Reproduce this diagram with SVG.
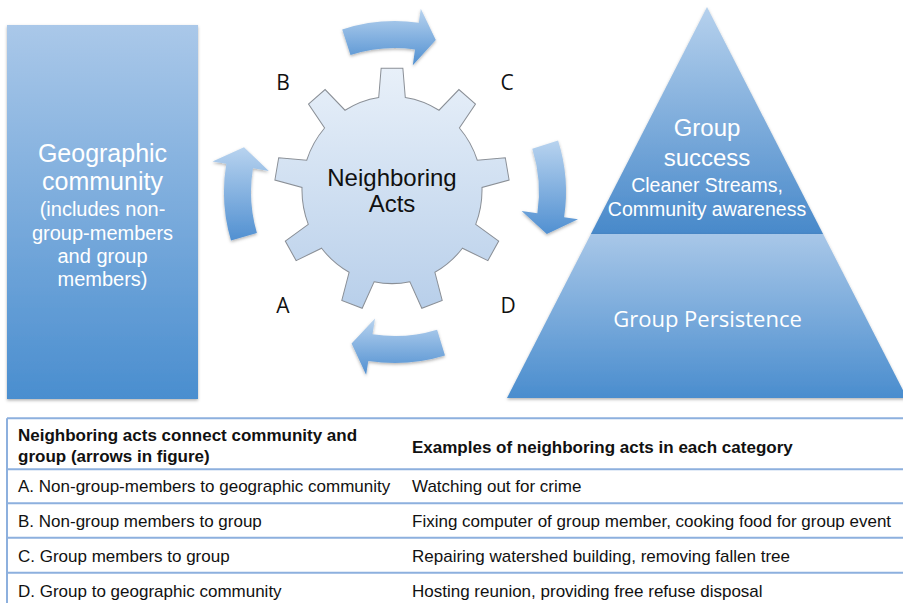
<svg xmlns="http://www.w3.org/2000/svg" width="903" height="603" viewBox="0 0 903 603">
<defs>
<linearGradient id="gRect" x1="0" y1="0" x2="0" y2="1">
<stop offset="0" stop-color="#aac8e9"/><stop offset="1" stop-color="#4a8ecf"/>
</linearGradient>
<linearGradient id="gTop" x1="0" y1="0" x2="0" y2="1">
<stop offset="0" stop-color="#b6d1ed"/><stop offset="1" stop-color="#4889ca"/>
</linearGradient>
<linearGradient id="gBot" x1="0" y1="0" x2="0" y2="1">
<stop offset="0" stop-color="#a8c7e8"/><stop offset="1" stop-color="#4a8dce"/>
</linearGradient>
<linearGradient id="gGear" x1="0" y1="0" x2="0" y2="1">
<stop offset="0" stop-color="#e8f0f9"/><stop offset="1" stop-color="#b8cfea"/>
</linearGradient>
<linearGradient id="gArrow" x1="0" y1="0" x2="0" y2="1">
<stop offset="0" stop-color="#b8d3ef"/><stop offset="1" stop-color="#5190d1"/>
</linearGradient>
<filter id="sh" x="-10%" y="-10%" width="120%" height="120%">
<feDropShadow dx="0" dy="1.5" stdDeviation="1.5" flood-color="#000" flood-opacity="0.3"/>
</filter>
</defs>
<style>
.w{fill:#ffffff;font-family:"Liberation Sans",Arial,sans-serif;text-anchor:middle}
.k{fill:#111111;font-family:"Liberation Sans",Arial,sans-serif}
.lbl{fill:#111111;font-family:"Open Sans","Liberation Sans",sans-serif;font-size:21px;text-anchor:middle}
.arrow{fill:url(#gArrow);filter:url(#sh)}
.tl{stroke:#8db0de;stroke-width:2;fill:none}
.td{font-size:17px}
</style>
<rect width="903" height="603" fill="#ffffff"/>

<g id="geographic-community">
<rect x="7" y="25" width="191" height="374" fill="url(#gRect)" filter="url(#sh)"/>
<text class="w" font-size="25" x="102.5" y="162">Geographic</text>
<text class="w" font-size="25" x="102.5" y="190">community</text>
<text class="w" font-size="20" x="102.5" y="216">(includes non-</text>
<text class="w" font-size="20" x="102.5" y="239.5">group-members</text>
<text class="w" font-size="20" x="102.5" y="263">and group</text>
<text class="w" font-size="20" x="102.5" y="286">members)</text>
</g>

<g id="neighboring-acts">
<path transform="translate(392,190) scale(1,1.04)" fill="url(#gGear)" stroke="#8a8f96" stroke-width="1" d="M-13.3,-89.0 L-10.86,-117.0 L10.86,-117.0 L13.3,-89.0 A90,90 0 0 1 47.0,-76.7 L66.9,-96.6 L83.5,-82.6 L67.4,-59.6 A90,90 0 0 1 85.3,-28.6 L113.3,-31.0 L117.1,-9.6 L90.0,-2.4 A90,90 0 0 1 83.7,33.0 L106.7,49.1 L95.9,67.9 L70.4,56.0 A90,90 0 0 1 42.9,79.1 L50.2,106.2 L29.8,113.7 L17.9,88.2 A90,90 0 0 1 -17.9,88.2 L-29.8,113.7 L-50.2,106.2 L-42.9,79.1 A90,90 0 0 1 -70.4,56.0 L-95.9,67.9 L-106.7,49.1 L-83.7,33.0 A90,90 0 0 1 -90.0,-2.4 L-117.1,-9.6 L-113.3,-31.0 L-85.3,-28.6 A90,90 0 0 1 -67.4,-59.6 L-83.5,-82.6 L-66.9,-96.6 L-47.0,-76.7 A90,90 0 0 1 -13.3,-89.0 Z"/>
<text class="k" font-size="24" x="392" y="186" text-anchor="middle">Neighboring</text>
<text class="k" font-size="24" x="392" y="212" text-anchor="middle">Acts</text>
</g>

<g id="group-pyramid">
<polygon points="707,7 823.1,234 590.9,234" fill="url(#gTop)" filter="url(#sh)"/>
<polygon points="590.9,234 823.1,234 907,398 507,398" fill="url(#gBot)" filter="url(#sh)"/>
<text class="w" font-size="24" x="707" y="136">Group</text>
<text class="w" font-size="24" x="707" y="166">success</text>
<text class="w" font-size="19.5" x="707" y="192">Cleaner Streams,</text>
<text class="w" font-size="19.5" x="707" y="216">Community awareness</text>
<text class="w" font-size="22" x="707.5" y="327" style="font-family:'Open Sans','Liberation Sans',sans-serif">Group Persistence</text>
</g>

<g id="connectors">
<path class="arrow" d="M342.2,29.4 A171,171 0 0 1 418.8,22.7 L420.8,8.8 L435.8,39.9 L412.8,65.2 L415.0,49.4 A144,144 0 0 0 350.5,55.0 Z"/>
<path class="arrow" d="M558.1,140.6 A171,171 0 0 1 564.1,217.3 L578.0,219.3 L546.8,234.1 L521.6,210.9 L537.4,213.3 A144,144 0 0 0 532.3,148.7 Z"/>
<path class="arrow" d="M445.0,355.5 A171,171 0 0 1 368.3,360.9 L366.1,374.7 L351.6,343.4 L375.0,318.4 L372.5,334.2 A144,144 0 0 0 437.1,329.7 Z"/>
<path class="arrow" d="M231.0,240.6 A171,171 0 0 1 226.3,163.8 L212.5,161.5 L244.0,147.3 L268.8,170.9 L253.0,168.2 A144,144 0 0 0 256.9,232.9 Z"/>
<text class="lbl" x="283" y="90">B</text>
<text class="lbl" x="507" y="90">C</text>
<text class="lbl" x="283" y="313">A</text>
<text class="lbl" x="508" y="313">D</text>
</g>

<g id="table">
<path class="tl" d="M7,418.3 H903 M7,418.3 V603 M7,469.3 H903 M7,503.3 H903 M7,537.7 H903 M7,572.7 H903"/>
<g class="k td" font-weight="bold">
<text x="18" y="441">Neighboring acts connect community and</text>
<text x="18" y="462">group (arrows in figure)</text>
<text x="412" y="453">Examples of neighboring acts in each category</text>
</g>
<g class="k td">
<text x="18" y="492">A. Non-group-members to geographic community</text>
<text x="412" y="492">Watching out for crime</text>
<text x="18" y="527">B. Non-group members to group</text>
<text x="412" y="527">Fixing computer of group member, cooking food for group event</text>
<text x="18" y="562">C. Group members to group</text>
<text x="412" y="562">Repairing watershed building, removing fallen tree</text>
<text x="18" y="597">D. Group to geographic community</text>
<text x="412" y="597">Hosting reunion, providing free refuse disposal</text>
</g>
</g>
</svg>
